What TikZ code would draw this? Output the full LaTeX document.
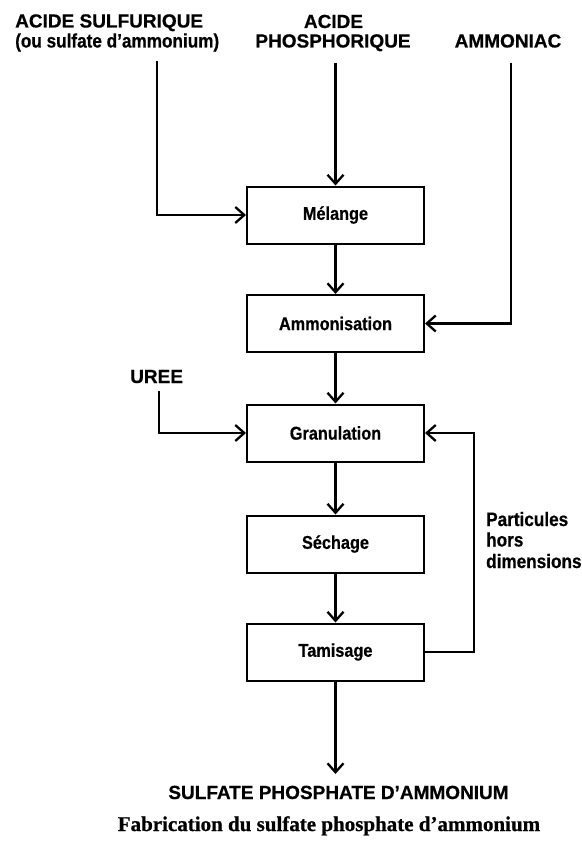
\documentclass[tikz,border=0pt]{standalone}
\usepackage{fontspec}
\setmainfont{Liberation Sans}
\newfontfamily\capsfont[BoldFeatures={FakeBold=0.6}]{Liberation Sans}
\newfontfamily\narrowfont[FakeStretch=0.88,BoldFeatures={FakeBold=0.6}]{Liberation Sans}
\newfontfamily\captionfont[BoldFeatures={FakeBold=0.8}]{Liberation Serif}
\usetikzlibrary{arrows.meta}

\tikzset{
  stepbox/.style={draw, line width=2pt, minimum width=177pt, minimum height=57pt,
    inner sep=0pt, font=\narrowfont\bfseries\fontsize{18.5}{20}\selectfont},
  feedlabel/.style={inner sep=0pt, font=\capsfont\bfseries\fontsize{19}{21}\selectfont},
  notelabel/.style={inner sep=0pt, font=\narrowfont\bfseries\fontsize{19.5}{21}\selectfont},
  captionlabel/.style={inner sep=0pt, font=\captionfont\bfseries\fontsize{21}{23}\selectfont},
  flow/.style={line width=2.3pt, -{Straight Barb[length=9pt,width=16pt]}}
}

\begin{document}
\begin{tikzpicture}[x=1pt,y=-1pt]
  \useasboundingbox (0,0) rectangle (581,843);

  % process steps
  \node[stepbox] (melange) at (335.5,215)   {Mélange};
  \node[stepbox] (ammon)   at (335.5,323.5) {Ammonisation};
  \node[stepbox] (gran)    at (335.5,433)   {Granulation};
  \node[stepbox] (sechage) at (335.5,544)   {Séchage};
  \node[stepbox] (tamis)   at (335.5,652)   {Tamisage};

  % raw materials
  \node[feedlabel, anchor=base west] (sulf1) at (15,27.5) {ACIDE SULFURIQUE};
  \node[notelabel, anchor=base west] (sulf2) at (15,47.5) {(ou sulfate d’ammonium)};
  \node[feedlabel, anchor=base] (phos1) at (333.5,28) {ACIDE};
  \node[feedlabel, anchor=base] (phos2) at (333,47.5) {PHOSPHORIQUE};
  \node[feedlabel, anchor=base] (ammo)  at (508,47.5) {AMMONIAC};
  \node[feedlabel, anchor=base west] (uree) at (130,383) {UREE};

  % recycle label
  \node[notelabel, anchor=base west] (part1) at (486,526)   {Particules};
  \node[notelabel, anchor=base west] (part2) at (486,546.5) {hors};
  \node[notelabel, anchor=base west] (part3) at (486,568)   {dimensions};

  % product and caption
  \node[feedlabel, anchor=base] (product) at (338.5,799) {SULFATE PHOSPHATE D’AMMONIUM};
  \node[captionlabel, anchor=base] (caption) at (329,831) {Fabrication du sulfate phosphate d’ammonium};

  % line ends
  \coordinate (sulfIn) at (157,61);
  \coordinate (phosIn) at (335.5,63);
  \coordinate (ammoIn) at (511,63);
  \coordinate (ureeIn) at (159,391);
  \coordinate (recycle) at (474,652);
  \coordinate (out) at (335.5,774);

  % feeds
  \draw[flow] (sulfIn) |- (melange.west);
  \draw[flow] (phosIn) -- (melange.north);
  \draw[flow] (ammoIn) |- (ammon.east);
  \draw[flow] (ureeIn) |- (gran.west);

  % main line
  \draw[flow] (melange.south) -- (ammon.north);
  \draw[flow] (ammon.south) -- (gran.north);
  \draw[flow] (gran.south) -- (sechage.north);
  \draw[flow] (sechage.south) -- (tamis.north);
  \draw[flow] (tamis.south) -- (out);

  % oversize particles back to granulation
  \draw[flow] (tamis.east) -- (recycle) |- (gran.east);
\end{tikzpicture}
\end{document}
